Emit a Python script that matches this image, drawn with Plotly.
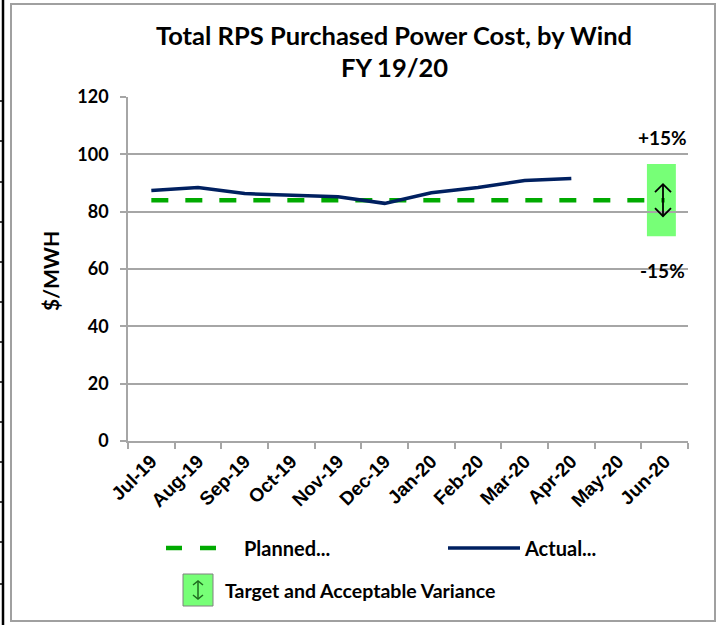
import plotly.graph_objects as go

months = ["Jul-19", "Aug-19", "Sep-19", "Oct-19", "Nov-19", "Dec-19",
          "Jan-20", "Feb-20", "Mar-20", "Apr-20", "May-20", "Jun-20"]
planned = [84, 84, 84, 84, 84, 84, 84, 84, 84, 84, 84, 84]
actual = [87.4, 88.4, 86.3, 85.7, 85.2, 82.9, 86.6, 88.4, 90.9, 91.6, None, None]
variance_pct = 0.15
y_ticks = [0, 20, 40, 60, 80, 100, 120]

W, H = 724, 625
L, R, T, B = 128, 688, 97, 441   # plot area in pixels


def px(x):
    return (x - L) / (R - L)


def py(y):
    return (B - y) / (B - T)


FONT = "Lato"
GREEN = "#00AA00"
NAVY = "#002060"
BOX = "#77FF77"
GRID = "#A6A6A6"

fig = go.Figure()
fig.add_trace(go.Scatter(x=months, y=planned, mode="lines", name="Planned...",
                         line=dict(color=GREEN, width=4.5, dash="17px,17px"),
                         showlegend=False))
fig.add_trace(go.Scatter(x=months, y=actual, mode="lines", name="Actual...",
                         line=dict(color=NAVY, width=3.5),
                         showlegend=False))

target = planned[-1]
hi = target * (1 + variance_pct)
lo = target * (1 - variance_pct)

shapes = []
shapes.append(dict(type="rect", xref="x", yref="y", x0=10.62, x1=11.24,
                   y0=lo, y1=hi, fillcolor=BOX, line=dict(width=0), layer="below"))
ax = px(663)
hw = 8 / (R - L)
a_top = target + 5.6
a_bot = target - 5.6
head = 2.8
for p in [f"M {ax},{a_top} L {ax},{a_bot}",
          f"M {ax-hw},{a_top-head} L {ax},{a_top} L {ax+hw},{a_top-head}",
          f"M {ax-hw},{a_bot+head} L {ax},{a_bot} L {ax+hw},{a_bot+head}"]:
    shapes.append(dict(type="path", xref="paper", yref="y", path=p,
                       line=dict(color="black", width=1.8)))

# outer frame
shapes.append(dict(type="rect", xref="paper", yref="paper",
                   x0=px(11), x1=px(715), y0=py(621), y1=py(4),
                   line=dict(color="#A0A0A0", width=2)))
# left page edge line with ticks
shapes.append(dict(type="line", xref="paper", yref="paper",
                   x0=px(3), x1=px(3), y0=py(0), y1=py(625),
                   line=dict(color="black", width=2.5)))
for ty in [101, 141, 182, 222, 262, 302, 342, 382, 422, 462, 502, 542, 584]:
    shapes.append(dict(type="line", xref="paper", yref="paper",
                       x0=px(0), x1=px(4), y0=py(ty), y1=py(ty),
                       line=dict(color="black", width=1.5)))

# legend samples
ly1 = py(548)
shapes.append(dict(type="line", xref="paper", yref="paper",
                   x0=px(166), x1=px(182), y0=ly1, y1=ly1,
                   line=dict(color=GREEN, width=4.5)))
shapes.append(dict(type="line", xref="paper", yref="paper",
                   x0=px(200), x1=px(216), y0=ly1, y1=ly1,
                   line=dict(color=GREEN, width=4.5)))
shapes.append(dict(type="line", xref="paper", yref="paper",
                   x0=px(448), x1=px(520), y0=ly1, y1=ly1,
                   line=dict(color=NAVY, width=3.5)))
shapes.append(dict(type="rect", xref="paper", yref="paper",
                   x0=px(183), x1=px(213), y0=py(606), y1=py(574),
                   fillcolor=BOX, line=dict(color="#808080", width=1)))
lx = px(198)
lhw = 5 / (R - L)
lt, lb = py(581), py(599)
lh = 4 / (B - T)
for p in [f"M {lx},{lt} L {lx},{lb}",
          f"M {lx-lhw},{lt-lh} L {lx},{lt} L {lx+lhw},{lt-lh}",
          f"M {lx-lhw},{lb+lh} L {lx},{lb} L {lx+lhw},{lb+lh}"]:
    shapes.append(dict(type="path", xref="paper", yref="paper", path=p,
                       line=dict(color="#1E6B1E", width=1.5)))


def label(text, x, y, size, xanchor="center", angle=0):
    return dict(text="<b>%s</b>" % text, x=px(x), y=py(y), xref="paper", yref="paper",
                xanchor=xanchor, yanchor="middle", showarrow=False, textangle=angle,
                font=dict(family=FONT, size=size, color="black"))


ann = [
    label("Total RPS Purchased Power Cost, by Wind", 394, 35, 25.5),
    label("FY 19/20", 394, 67, 25.5),
    label("$/MWH", 50, 271, 21, angle=-90),
    label("+15%", 662, 137, 19),
    label("-15%", 662, 270, 19),
    label("Planned...", 242, 548, 20, xanchor="left"),
    label("Actual...", 522, 548, 20, xanchor="left"),
    label("Target and Acceptable Variance", 223, 590, 19.5, xanchor="left"),
]

fig.update_layout(
    width=W, height=H,
    margin=dict(l=L, r=W - R, t=T, b=H - B),
    paper_bgcolor="white", plot_bgcolor="white",
    showlegend=False,
    shapes=shapes, annotations=ann,
    xaxis=dict(type="category", categoryorder="array", categoryarray=months,
               range=[-0.5, 11.5], tickson="boundaries", ticks="outside",
               ticklen=6, tickcolor=GRID, tickwidth=1.5,
               showline=True, linecolor=GRID, linewidth=1.5,
               showgrid=False, tickangle=-45,
               tickfont=dict(family="Liberation Sans", size=19, color="black"),
               fixedrange=True),
    yaxis=dict(range=[0, 120], tickvals=y_ticks, ticks="outside", ticklen=6,
               tickcolor=GRID, tickwidth=1.5,
               showline=True, linecolor=GRID, linewidth=1.5,
               showgrid=True, gridcolor=GRID, gridwidth=1.5, zeroline=False,
               tickfont=dict(family=FONT, size=18, color="black"),
               ticklabelstandoff=8, fixedrange=True),
)
fig.update_xaxes(ticktext=["<b>%s</b>" % m for m in months], tickvals=months)
fig.update_yaxes(ticktext=["<b>%d</b>" % v for v in y_ticks])

fig.write_html("out.html", config={"displayModeBar": False},
               post_script="document.body.style.margin='0';document.body.style.overflow='hidden';")
